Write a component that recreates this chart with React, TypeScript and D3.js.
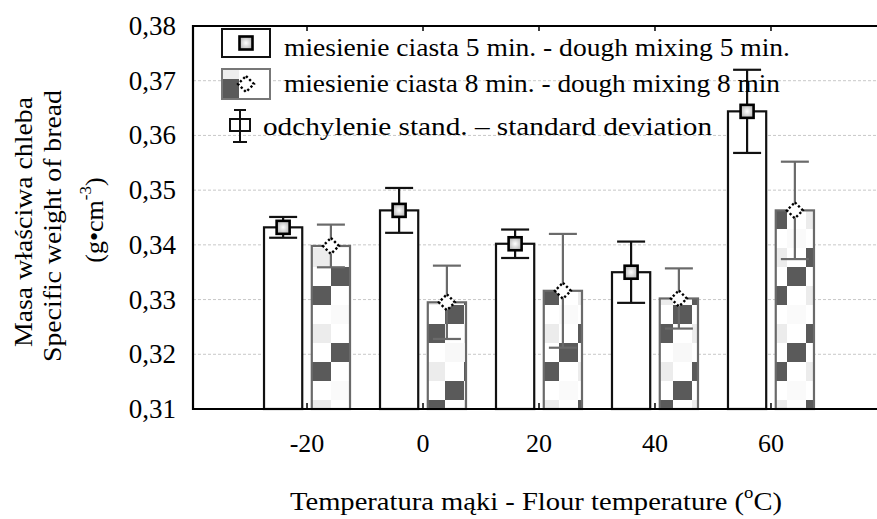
import React, { useEffect, useRef } from "react";
import * as d3 from "d3";

const categories = ["-20", "0", "20", "40", "60"];
const mix5 = [0.3432, 0.3463, 0.3402, 0.335, 0.3644];
const mix5Sd = [0.0019, 0.0041, 0.0026, 0.0056, 0.0076];
const mix8 = [0.3398, 0.3295, 0.3316, 0.3302, 0.3463];
const mix8Sd = [0.0039, 0.0067, 0.0104, 0.0055, 0.0089];
const yTicks = [0.31, 0.32, 0.33, 0.34, 0.35, 0.36, 0.37, 0.38];
const legendLabels = [
  "miesienie ciasta 5 min. - dough mixing 5 min.",
  "miesienie ciasta 8 min. - dough mixing 8 min",
  "odchylenie stand. \u2013 standard deviation",
];

const FONT = "Liberation Serif";

function App() {
  const svgRef = useRef<SVGSVGElement | null>(null);

  useEffect(() => {
    const width = 877;
    const height = 519;
    const left = 193;
    const right = 885;
    const top = 26;
    const bottom = 409;

    const root = d3.select(svgRef.current);
    root.selectAll("*").remove();
    const svg = root.attr("width", width).attr("height", height);

    const x = d3
      .scaleBand()
      .domain(categories)
      .range([left, right])
      .paddingInner(0)
      .paddingOuter(0.483);
    const sub = d3
      .scaleBand()
      .domain(["5", "8"])
      .range([-43 + x.bandwidth() / 2, 43 + x.bandwidth() / 2])
      .paddingInner(0.2);
    const y = d3.scaleLinear().domain([0.31, 0.38]).range([bottom, top]);

    // checker pattern for the 8 min bars
    const defs = svg.append("defs");
    const cell = 19;
    const pat = defs
      .append("pattern")
      .attr("id", "checker")
      .attr("patternUnits", "userSpaceOnUse")
      .attr("x", 312)
      .attr("y", 20)
      .attr("width", cell * 4)
      .attr("height", cell * 4);
    pat.append("rect").attr("width", cell * 4).attr("height", cell * 4).attr("fill", "#fff");
    const dark = "#5a5a5a";
    const light = "#ececec";
    // [col, row, colour]
    const cells: [number, number, string][] = [
      [0, 0, light], [1, 1, dark], [0, 2, dark], [1, 3, "#fafafa"],
      [2, 0, dark], [3, 1, "#f8f8f8"], [2, 2, light], [3, 3, dark],
    ];
    cells.forEach(([c, r, col]) => {
      pat.append("rect").attr("x", c * cell).attr("y", r * cell)
        .attr("width", cell).attr("height", cell).attr("fill", col);
    });

    const grad = defs.append("radialGradient").attr("id", "sq");
    grad.append("stop").attr("offset", "0%").attr("stop-color", "#ffffff");
    grad.append("stop").attr("offset", "100%").attr("stop-color", "#bdbdbd");

    // grid
    svg.append("g")
      .selectAll("line")
      .data(yTicks.slice(1, -1))
      .join("line")
      .attr("x1", left)
      .attr("x2", right)
      .attr("y1", (d) => y(d))
      .attr("y2", (d) => y(d))
      .attr("stroke", "#c8c8c8")
      .attr("stroke-width", 1)
      .attr("stroke-dasharray", "3,2");

    // bars
    const g5 = svg.append("g");
    g5.selectAll("rect")
      .data(mix5)
      .join("rect")
      .attr("x", (d, i) => x(categories[i])! + sub("5")!)
      .attr("y", (d) => y(d))
      .attr("width", sub.bandwidth())
      .attr("height", (d) => bottom - y(d))
      .attr("fill", "#fff")
      .attr("stroke", "#111")
      .attr("stroke-width", 2.2);

    const g8 = svg.append("g");
    g8.selectAll("rect")
      .data(mix8)
      .join("rect")
      .attr("x", (d, i) => x(categories[i])! + sub("8")!)
      .attr("y", (d) => y(d))
      .attr("width", sub.bandwidth())
      .attr("height", (d) => bottom - y(d))
      .attr("fill", "url(#checker)")
      .attr("stroke", "#6a6a6a")
      .attr("stroke-width", 2.2);

    // error bars
    const errBars = (
      vals: number[],
      sds: number[],
      key: string,
      color: string
    ) => {
      const g = svg.append("g").attr("stroke", color).attr("stroke-width", 2.2);
      vals.forEach((v, i) => {
        const cx = x(categories[i])! + sub(key)! + sub.bandwidth() / 2;
        const y1 = y(v + sds[i]);
        const y2 = y(v - sds[i]);
        g.append("line").attr("x1", cx).attr("x2", cx).attr("y1", y1).attr("y2", y2);
        g.append("line").attr("x1", cx - 14).attr("x2", cx + 14).attr("y1", y1).attr("y2", y1);
        g.append("line").attr("x1", cx - 14).attr("x2", cx + 14).attr("y1", y2).attr("y2", y2);
      });
    };
    errBars(mix5, mix5Sd, "5", "#111");
    errBars(mix8, mix8Sd, "8", "#6a6a6a");

    // markers
    const square = (g: any, cx: number, cy: number) =>
      g.append("rect")
        .attr("x", cx - 6.5)
        .attr("y", cy - 6.5)
        .attr("width", 13)
        .attr("height", 13)
        .attr("fill", "url(#sq)")
        .attr("stroke", "#000")
        .attr("stroke-width", 2.6);
    const diamond = (g: any, cx: number, cy: number) =>
      g.append("path")
        .attr("d", `M${cx},${cy - 8}L${cx + 8},${cy}L${cx},${cy + 8}L${cx - 8},${cy}Z`)
        .attr("fill", "#fff")
        .attr("stroke", "#000")
        .attr("stroke-width", 2.4)
        .attr("stroke-dasharray", "2.3,2.3");

    const gm = svg.append("g");
    mix5.forEach((v, i) => {
      square(gm, x(categories[i])! + sub("5")! + sub.bandwidth() / 2, y(v));
    });
    mix8.forEach((v, i) => {
      diamond(gm, x(categories[i])! + sub("8")! + sub.bandwidth() / 2, y(v));
    });

    // axes frame
    const ax = svg.append("g").attr("stroke", "#000").attr("stroke-width", 2.2);
    ax.append("line").attr("x1", left).attr("x2", left).attr("y1", top - 1).attr("y2", bottom + 1);
    ax.append("line").attr("x1", left - 1).attr("x2", width).attr("y1", top).attr("y2", top);
    ax.append("line").attr("x1", left - 1).attr("x2", width).attr("y1", bottom).attr("y2", bottom);
    categories.forEach((c) => {
      const cx = x(c)! + x.bandwidth() / 2;
      ax.append("line").attr("x1", cx).attr("x2", cx).attr("y1", top).attr("y2", top + 5).attr("stroke-width", 1.5);
      ax.append("line").attr("x1", cx).attr("x2", cx).attr("y1", bottom).attr("y2", bottom - 6).attr("stroke-width", 1.5);
    });

    // tick labels
    svg.append("g")
      .selectAll("text")
      .data(yTicks)
      .join("text")
      .attr("x", 176)
      .attr("y", (d) => y(d) + 9)
      .attr("text-anchor", "end")
      .attr("font-family", FONT)
      .attr("font-size", 27)
      .text((d) => d3.format(".2f")(d).replace(".", ","));

    svg.append("g")
      .selectAll("text")
      .data(categories)
      .join("text")
      .attr("x", (d) => x(d)! + x.bandwidth() / 2)
      .attr("y", 452)
      .attr("text-anchor", "middle")
      .attr("font-family", FONT)
      .attr("font-size", 26)
      .text((d) => d);

    // axis titles
    const xt = svg.append("text")
      .attr("x", 290)
      .attr("y", 510)
      .attr("textLength", 492)
      .attr("lengthAdjust", "spacingAndGlyphs")
      .attr("font-family", FONT)
      .attr("font-size", 26);
    xt.append("tspan").text("Temperatura mąki - Flour temperature (");
    xt.append("tspan").attr("font-size", 17).attr("dy", -12).text("o");
    xt.append("tspan").attr("dy", 12).text("C)");

    const yt = svg.append("g")
      .attr("font-family", FONT)
      .attr("font-size", 26);
    yt.append("text")
      .attr("transform", "translate(32,347) rotate(-90)")
      .attr("textLength", 250)
      .attr("lengthAdjust", "spacingAndGlyphs")
      .text("Masa właściwa chleba");
    yt.append("text")
      .attr("transform", "translate(61,362) rotate(-90)")
      .attr("textLength", 272)
      .attr("lengthAdjust", "spacingAndGlyphs")
      .text("Specific weight of bread");
    const yt3 = yt.append("text").attr("transform", "translate(103,220) rotate(-90)").attr("text-anchor", "middle");
    yt3.append("tspan").text("(g\u2022cm");
    yt3.append("tspan").attr("font-size", 17).attr("dy", -12).text("-3");
    yt3.append("tspan").attr("dy", 12).text(")");

    // legend
    const lg = svg.append("g");
    lg.append("rect").attr("x", 222).attr("y", 29).attr("width", 48).attr("height", 28)
      .attr("fill", "#fff").attr("stroke", "#111").attr("stroke-width", 2);
    square(lg, 246, 43);
    lg.append("rect").attr("x", 222).attr("y", 69).attr("width", 48).attr("height", 30)
      .attr("fill", "#fff").attr("stroke", "#777").attr("stroke-width", 2);
    lg.append("rect").attr("x", 223).attr("y", 70).attr("width", 16).attr("height", 28).attr("fill", dark);
    lg.append("rect").attr("x", 223).attr("y", 70).attr("width", 16).attr("height", 9).attr("fill", "#eee");
    diamond(lg, 246, 84);
    const ie = lg.append("g").attr("stroke", "#111").attr("stroke-width", 2);
    ie.append("line").attr("x1", 240).attr("x2", 240).attr("y1", 110).attr("y2", 142);
    ie.append("line").attr("x1", 234).attr("x2", 246).attr("y1", 110).attr("y2", 110);
    ie.append("line").attr("x1", 233).attr("x2", 247).attr("y1", 142).attr("y2", 142);
    ie.append("rect").attr("x", 230).attr("y", 119).attr("width", 20).attr("height", 12).attr("fill", "none");
    const ly = [56, 92, 135];
    const lx = [284, 284, 263];
    const lw = [506, 496, 449];
    legendLabels.forEach((t, i) => {
      lg.append("text")
        .attr("x", lx[i])
        .attr("y", ly[i])
        .attr("textLength", lw[i])
        .attr("lengthAdjust", "spacingAndGlyphs")
        .attr("font-family", FONT)
        .attr("font-size", 26)
        .text(t);
    });
  }, []);

  return (
    <svg
      ref={svgRef}
      style={{ position: "absolute", left: 0, top: 0, background: "#fff" }}
    ></svg>
  );
}

export default App;
